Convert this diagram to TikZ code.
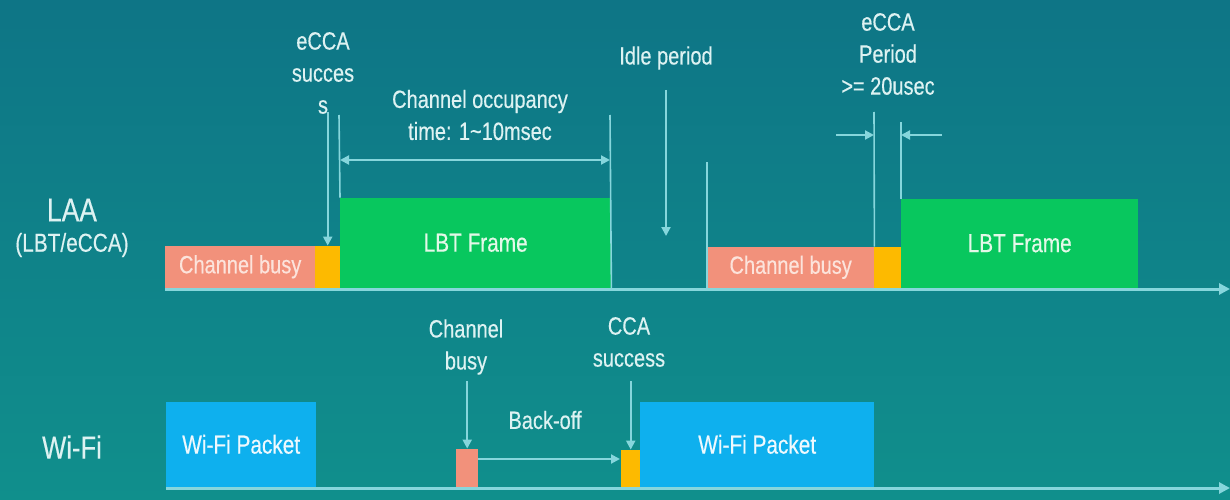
\documentclass[tikz,border=0pt]{standalone}
\usepackage{fontspec}
\setmainfont{Liberation Sans}[FakeStretch=0.8, FakeBold=0.35]
\usetikzlibrary{arrows.meta}

\definecolor{bgtop}{HTML}{0E7586}
\definecolor{bgbot}{HTML}{108F8C}
\definecolor{axiscol}{HTML}{86D6DC}
\definecolor{labelcol}{HTML}{DDF2F2}
\definecolor{busycol}{HTML}{F2917B}
\definecolor{busytext}{HTML}{FCE3DB}
\definecolor{ccacol}{HTML}{FDBA00}
\definecolor{framecol}{HTML}{08C75E}
\definecolor{frametext}{HTML}{E3F8E8}
\definecolor{pktcol}{HTML}{0EB0EE}
\definecolor{pkttext}{HTML}{EEF9FE}

\tikzset{
  box/.style={draw=none, inner sep=0pt, anchor=south west},
  busybox/.style={box, fill=busycol, text=busytext, font=\fontsize{25}{30}\selectfont},
  ccabox/.style={box, fill=ccacol},
  framebox/.style={box, fill=framecol, text=frametext, font=\fontsize{26}{30}\selectfont},
  pktbox/.style={box, fill=pktcol, text=pkttext, font=\fontsize{26}{30}\selectfont},
  lbl/.style={text=labelcol, align=center, inner sep=0pt, font=\fontsize{25}{32}\selectfont},
  axisline/.style={draw=axiscol, line width=3pt, -{Triangle[length=11pt,width=11pt]}},
  guide/.style={draw=axiscol, line width=1.6pt},
  pointer/.style={draw=axiscol, line width=2pt, -{Triangle[length=9pt,width=9pt]}},
  span/.style={draw=axiscol, line width=2pt, {Triangle[length=9pt,width=9pt]}-{Triangle[length=9pt,width=9pt]}},
}

\begin{document}
\begin{tikzpicture}[x=1pt, y=-1pt]
  % background with a soft vertical gradient
  \shade[top color=bgtop, bottom color=bgbot] (0,0) rectangle (1230,500);
  \useasboundingbox (0,0) rectangle (1230,500);

  % ---------- LAA (LBT/eCCA) timeline ----------
  \node[lbl, font=\fontsize{33}{36}\selectfont] (laa) at (72,210) {LAA};
  \node[lbl, font=\fontsize{26}{30}\selectfont] (laasub) at (72,245) {(LBT/eCCA)};

  \node[busybox, minimum width=150pt, minimum height=42pt] (cb1) at (165,288) {Channel busy};
  \node[ccabox, minimum width=25pt, minimum height=42pt] (ec1) at (315,288) {};
  \node[framebox, minimum width=271pt, minimum height=90pt] (lbt1) at (340,288) {LBT Frame};

  \node[busybox, minimum width=167pt, minimum height=41pt] (cb2) at (707,288) {Channel busy};
  \node[ccabox, minimum width=27pt, minimum height=41pt] (ec2) at (874,288) {};
  \node[framebox, minimum width=237pt, minimum height=89pt] (lbt2) at (901,288) {LBT Frame};

  \coordinate (laaS) at (165,289);
  \coordinate (laaE) at (1230,289);
  \draw[axisline] (laaS) -- (laaE);

  % eCCA success
  \node[lbl] (eccaok) at (323,73) {eCCA\\succes\\s};
  \coordinate (eccaokT) at (ec1.north |- 0,112);
  \draw[pointer] (eccaokT) -- (ec1.north);

  % channel occupancy time
  \coordinate (occL) at (339,115);
  \coordinate (occR) at (610,115);
  \draw[guide] (occL) -- (lbt1.north west);
  \draw[guide] (occR) -- (lbt1.south east);
  \node[lbl] (occ) at (480,115) {Channel occupancy\\time: 1\textasciitilde 10msec};
  \coordinate (occA) at (340,160);
  \coordinate (occB) at (610,160);
  \draw[span] (occA) -- (occB);

  % idle period
  \node[lbl] (idle) at (666,58) {Idle period};
  \coordinate (idleT) at (666,90);
  \coordinate (idleB) at (666,236);
  \draw[pointer] (idleT) -- (idleB);
  \coordinate (idleEnd) at (707,162);
  \draw[guide] (idleEnd) -- (cb2.south west);

  % eCCA period
  \node[lbl] (eccap) at (888,54) {eCCA\\Period\\>= 20usec};
  \coordinate (epL) at (874,112);
  \coordinate (epR) at (901,122);
  \draw[guide] (epL) -- (cb2.north east);
  \draw[guide] (epR) -- (lbt2.north west);
  \coordinate (epLa) at (836,135);
  \coordinate (epLb) at (874,135);
  \coordinate (epRa) at (942,135);
  \coordinate (epRb) at (901,135);
  \draw[pointer] (epLa) -- (epLb);
  \draw[pointer] (epRa) -- (epRb);

  % ---------- Wi-Fi timeline ----------
  \node[lbl, font=\fontsize{32}{36}\selectfont] (wifi) at (72,447) {Wi-Fi};

  \node[pktbox, minimum width=150pt, minimum height=85pt] (pk1) at (166,487) {Wi-Fi Packet};
  \node[busybox, minimum width=22pt, minimum height=38pt] (sb) at (456,487) {};
  \node[ccabox, minimum width=19pt, minimum height=37pt] (sc) at (621,487) {};
  \node[pktbox, minimum width=234pt, minimum height=85pt] (pk2) at (640,487) {Wi-Fi Packet};

  \coordinate (wfS) at (166,488);
  \coordinate (wfE) at (1230,488);
  \draw[axisline] (wfS) -- (wfE);

  \node[lbl] (chb) at (466,347) {Channel\\busy};
  \coordinate (chbT) at (sb.north |- 0,381);
  \draw[pointer] (chbT) -- (sb.north);

  \node[lbl] (ccas) at (629,342) {CCA\\success};
  \coordinate (ccasT) at (sc.north |- 0,381);
  \draw[pointer] (ccasT) -- (sc.north);

  \node[lbl] (boff) at (545,420) {Back-off};
  \coordinate (boA) at (478,459);
  \coordinate (boB) at (620,459);
  \draw[pointer] (boA) -- (boB);
\end{tikzpicture}
\end{document}
